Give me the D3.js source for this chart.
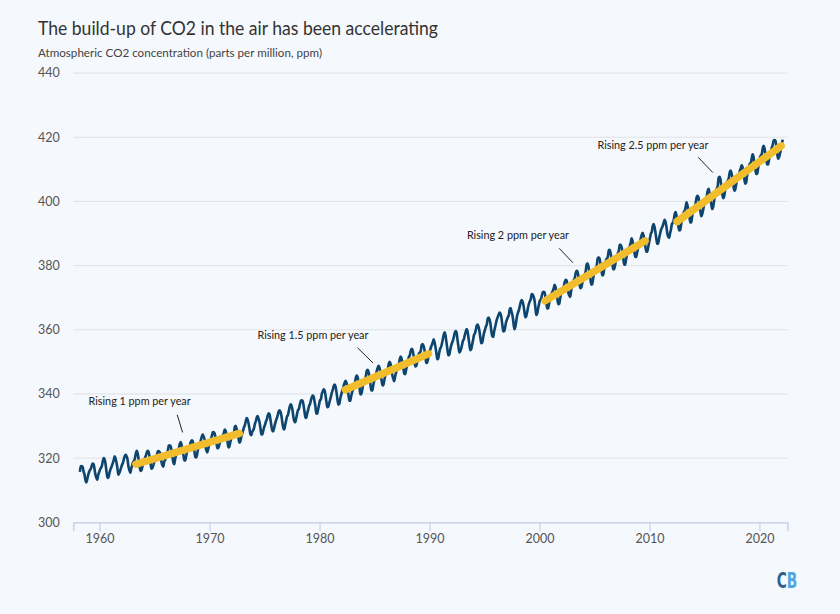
<!DOCTYPE html>
<html>
<head>
<meta charset="utf-8">
<script src="https://cdn.jsdelivr.net/npm/d3@7"></script>
<style>
  html, body { margin: 0; padding: 0; background: #f5f8fc; }
  svg { display: block; font-family: "Lato", "Noto Sans", sans-serif; }
</style>
</head>
<body>
<svg id="chart" width="840" height="614"></svg>
<script>
// ---- Data: Mauna Loa monthly mean CO2 (ppm), one row per year, Jan..Dec (null = no data shown)
const years = d3.range(1958, 2023);
const monthlyCo2 = [
  [null, null, 315.70, 317.45, 317.51, 317.24, 315.86, 314.93, 313.20, 312.43, 313.33, 314.67],
  [315.62, 316.38, 316.71, 317.72, 318.29, 318.15, 316.54, 314.80, 313.84, 313.26, 314.80, 315.58],
  [316.43, 316.97, 317.58, 319.02, 320.03, 319.59, 318.18, 315.91, 314.16, 313.83, 315.00, 316.19],
  [316.93, 317.70, 318.54, 319.48, 320.58, 319.77, 318.57, 316.79, 314.80, 315.38, 316.10, 317.01],
  [317.94, 318.56, 319.68, 320.63, 321.01, 320.55, 319.58, 317.40, 316.26, 315.42, 316.69, 317.70],
  [318.74, 319.07, 319.86, 321.38, 322.25, 321.48, 319.74, 317.77, 316.21, 315.99, 317.12, 318.31],
  [319.57, 320.07, 320.73, 321.77, 322.25, 321.89, 320.44, 318.69, 316.70, 316.87, 317.68, 318.71],
  [319.44, 320.44, 320.89, 322.14, 322.17, 321.87, 321.21, 318.87, 317.81, 317.30, 318.87, 319.42],
  [320.62, 321.59, 322.39, 323.87, 324.01, 323.75, 322.39, 320.37, 318.64, 318.10, 319.79, 321.08],
  [322.07, 322.50, 323.04, 324.42, 325.00, 324.09, 322.55, 320.92, 319.31, 319.31, 320.72, 321.96],
  [322.57, 323.15, 323.89, 325.02, 325.57, 325.36, 324.14, 322.11, 320.33, 320.25, 321.32, 322.90],
  [324.00, 324.42, 325.64, 326.66, 327.34, 326.76, 325.88, 323.67, 322.38, 321.78, 322.85, 324.11],
  [325.03, 325.99, 326.87, 328.13, 328.07, 327.66, 326.35, 324.69, 323.10, 323.16, 323.98, 325.13],
  [326.17, 326.68, 327.17, 327.79, 328.93, 328.57, 327.36, 325.43, 323.36, 323.56, 324.80, 326.01],
  [326.77, 327.63, 327.75, 329.72, 330.07, 329.09, 328.04, 326.32, 324.84, 325.20, 326.50, 327.55],
  [328.55, 329.56, 330.30, 331.50, 332.48, 332.07, 330.87, 329.31, 327.51, 327.18, 328.16, 328.64],
  [329.35, 330.71, 331.48, 332.65, 333.09, 332.25, 331.18, 329.39, 327.43, 327.37, 328.46, 329.57],
  [330.40, 331.40, 332.04, 333.31, 333.97, 333.60, 331.90, 330.06, 328.56, 328.34, 329.49, 330.76],
  [331.75, 332.56, 333.50, 334.58, 334.87, 334.34, 333.05, 330.94, 329.30, 328.94, 330.31, 331.68],
  [332.93, 333.42, 334.70, 336.07, 336.75, 336.27, 334.92, 332.75, 331.59, 331.16, 332.40, 333.85],
  [334.97, 335.38, 336.64, 337.76, 338.01, 337.89, 336.54, 334.68, 332.76, 332.54, 333.92, 334.95],
  [336.23, 336.76, 337.96, 338.89, 339.47, 339.29, 337.73, 336.09, 333.92, 333.86, 335.29, 336.73],
  [338.01, 338.36, 340.08, 340.77, 341.46, 341.17, 339.56, 337.60, 335.88, 336.02, 337.10, 338.21],
  [339.24, 340.48, 341.38, 342.51, 342.91, 342.25, 340.49, 338.43, 336.69, 336.86, 338.36, 339.61],
  [340.75, 341.61, 342.70, 343.56, 344.13, 343.35, 342.06, 339.82, 337.97, 337.86, 339.26, 340.49],
  [341.38, 342.52, 343.10, 344.94, 345.75, 345.32, 343.99, 342.39, 339.86, 339.99, 341.16, 342.99],
  [343.82, 344.63, 345.40, 347.14, 347.54, 346.89, 345.29, 343.09, 341.18, 341.07, 342.56, 343.97],
  [344.79, 345.82, 347.25, 348.17, 348.75, 348.07, 346.38, 344.52, 342.92, 342.63, 344.06, 345.38],
  [346.11, 346.78, 347.68, 349.37, 350.03, 349.37, 347.76, 345.73, 344.68, 343.99, 345.48, 346.72],
  [347.84, 348.29, 349.23, 350.80, 351.66, 351.07, 349.33, 347.92, 346.27, 346.18, 347.64, 348.78],
  [350.25, 351.54, 352.05, 353.41, 354.04, 353.62, 352.22, 350.27, 348.55, 348.72, 349.91, 351.18],
  [352.60, 352.92, 353.53, 355.26, 355.52, 354.97, 353.75, 351.52, 349.64, 349.83, 351.14, 352.37],
  [353.50, 354.55, 355.23, 356.04, 357.00, 356.07, 354.67, 352.76, 350.82, 351.04, 352.69, 354.07],
  [354.59, 355.63, 357.03, 358.48, 359.22, 358.12, 356.06, 353.92, 352.05, 352.11, 353.64, 354.89],
  [355.88, 356.63, 357.72, 359.07, 359.58, 359.17, 356.94, 354.92, 352.94, 353.23, 354.09, 355.33],
  [356.63, 357.10, 358.32, 359.41, 360.23, 359.55, 357.53, 355.48, 353.67, 353.95, 355.30, 356.78],
  [358.34, 358.89, 359.95, 361.25, 361.67, 360.94, 359.55, 357.49, 355.84, 356.00, 357.58, 359.04],
  [359.97, 361.00, 361.64, 363.45, 363.79, 363.26, 361.90, 359.46, 358.06, 357.75, 359.56, 360.70],
  [362.05, 363.25, 364.03, 364.72, 365.41, 364.97, 363.65, 361.49, 359.46, 359.60, 360.76, 362.33],
  [363.18, 364.00, 364.57, 366.35, 366.79, 365.62, 364.47, 362.51, 360.19, 360.77, 362.43, 364.28],
  [365.32, 366.15, 367.31, 368.61, 369.30, 368.87, 367.64, 365.77, 363.90, 364.23, 365.46, 366.97],
  [368.15, 368.87, 369.59, 371.14, 371.00, 370.35, 369.27, 366.94, 364.63, 365.12, 366.67, 368.01],
  [369.14, 369.46, 370.52, 371.66, 371.82, 371.70, 370.12, 368.12, 366.62, 366.73, 368.29, 369.53],
  [370.28, 371.50, 372.12, 372.87, 374.02, 373.30, 371.62, 369.55, 367.96, 368.09, 369.68, 371.24],
  [372.44, 373.08, 373.52, 374.85, 375.55, 375.40, 374.02, 371.49, 370.71, 370.25, 372.08, 373.78],
  [374.68, 375.62, 376.11, 377.65, 378.35, 378.13, 376.62, 374.50, 372.99, 373.01, 374.35, 375.70],
  [376.79, 377.37, 378.41, 380.52, 380.63, 379.57, 377.79, 375.86, 374.06, 374.24, 375.86, 377.48],
  [378.39, 379.22, 380.04, 382.25, 382.48, 382.23, 380.57, 378.72, 376.97, 377.05, 378.80, 380.28],
  [381.65, 382.21, 382.66, 384.69, 384.92, 384.03, 382.30, 380.49, 378.81, 379.03, 380.17, 381.85],
  [382.89, 383.90, 384.57, 386.48, 386.49, 385.86, 384.32, 381.93, 380.25, 380.36, 382.01, 383.52],
  [384.92, 385.56, 386.08, 387.10, 388.48, 387.75, 386.03, 384.27, 382.68, 382.72, 384.01, 385.47],
  [386.71, 387.12, 388.43, 389.61, 390.19, 389.47, 388.07, 385.91, 384.43, 384.31, 385.57, 387.09],
  [388.50, 389.94, 390.51, 392.29, 392.97, 392.11, 390.36, 388.39, 386.76, 387.03, 388.51, 389.85],
  [391.09, 391.76, 392.44, 393.37, 394.26, 393.67, 392.09, 389.97, 388.97, 388.65, 390.11, 391.37],
  [392.95, 393.32, 394.22, 396.09, 396.73, 395.60, 394.13, 392.26, 390.97, 391.11, 392.75, 394.17],
  [395.57, 396.74, 397.08, 398.35, 399.77, 398.69, 397.27, 395.47, 393.48, 393.45, 395.16, 396.86],
  [397.91, 398.01, 399.70, 401.33, 401.78, 401.25, 399.10, 397.03, 395.38, 396.03, 397.28, 398.91],
  [399.98, 400.28, 401.54, 403.28, 403.96, 402.80, 401.31, 398.93, 397.63, 398.29, 400.16, 401.85],
  [402.50, 404.04, 404.83, 407.42, 407.70, 406.81, 404.39, 402.25, 401.03, 401.57, 403.53, 404.42],
  [406.13, 406.42, 407.18, 409.00, 409.65, 408.84, 407.07, 405.07, 403.38, 403.64, 405.14, 406.81],
  [407.96, 408.32, 409.41, 410.24, 411.24, 410.79, 408.71, 406.99, 405.51, 405.95, 408.02, 409.07],
  [410.83, 411.75, 411.97, 413.32, 414.66, 413.92, 411.77, 409.95, 408.54, 408.53, 410.27, 411.76],
  [413.61, 414.34, 414.74, 416.45, 417.31, 416.62, 414.61, 412.78, 411.52, 411.51, 413.12, 414.26],
  [415.52, 416.75, 417.64, 419.05, 419.13, 418.94, 416.96, 414.47, 413.30, 413.93, 415.01, 416.71],
  [418.19, 419.28, null, null, null, null, null, null, null, null, null, null]
];

// Trend segments (start year, start ppm, end year, end ppm)
const trendStartYear = [1963.3, 1982.35, 2000.5, 2012.5];
const trendStartPpm  = [318.1, 341.3, 369.0, 393.7];
const trendEndYear   = [1972.7, 1989.9, 2009.6, 2021.97];
const trendEndPpm    = [327.7, 352.5, 387.7, 417.3];

// Annotations
const annotationText  = ["Rising 1 ppm per year", "Rising 1.5 ppm per year", "Rising 2 ppm per year", "Rising 2.5 ppm per year"];
const annotationYear  = [1959.0, 1974.36, 1993.4, 2005.27];
const annotationPpm   = [336.7, 357.1, 388.2, 416.25];
const leaderFromYear  = [1967.06, 1983.45, 2001.79, 2014.43];
const leaderFromPpm   = [333.5, 354.4, 385.4, 413.75];
const leaderToYear    = [1967.55, 1984.85, 2003.04, 2015.76];
const leaderToPpm     = [328.0, 349.7, 380.9, 409.0];

const yTicks = [300, 320, 340, 360, 380, 400, 420, 440];
const xTicks = [1960, 1970, 1980, 1990, 2000, 2010, 2020];

const titleText = "The build-up of CO2 in the air has been accelerating";
const subtitleText = "Atmospheric CO2 concentration (parts per million, ppm)";
const logoText = "CB";

// ---- Build series
const series = [];
years.forEach((yr, i) => {
  monthlyCo2[i].forEach((v, m) => {
    if (v !== null) series.push({ t: yr + (m + 0.5) / 12, v });
  });
});

const svg = d3.select("#chart");
const W = 840, H = 614;
svg.append("rect").attr("width", W).attr("height", H).attr("fill", "#f5f8fc");

// Two-tone gradient for the logo (C dark blue, B light blue)
const grad = svg.append("defs").append("linearGradient").attr("id", "cbGrad")
  .attr("x1", "0").attr("x2", "1").attr("y1", "0").attr("y2", "0");
grad.append("stop").attr("offset", "0.5").attr("stop-color", "#2d6190");
grad.append("stop").attr("offset", "0.5").attr("stop-color", "#4ea6df");

const x = d3.scaleLinear().domain([1957.61, 2022.55]).range([73.3, 787.5]);
const y = d3.scaleLinear().domain([300, 440]).range([522.3, 73.1]);

// Title & subtitle
svg.append("text").attr("x", 38).attr("y", 34.5)
  .attr("font-size", 19.5).attr("fill", "#333")
  .attr("textLength", 400).attr("lengthAdjust", "spacingAndGlyphs").text(titleText);
svg.append("text").attr("x", 38).attr("y", 57)
  .attr("font-size", 12).attr("fill", "#444")
  .attr("textLength", 284).attr("lengthAdjust", "spacingAndGlyphs").text(subtitleText);

// Gridlines
svg.append("g").selectAll("line").data(yTicks.filter(d => d !== 300)).join("line")
  .attr("x1", x.range()[0]).attr("x2", x.range()[1])
  .attr("y1", d => y(d)).attr("y2", d => y(d))
  .attr("stroke", "#dfe2e6").attr("stroke-width", 1);

// Y labels
svg.append("g").selectAll("text").data(yTicks).join("text")
  .attr("x", 38).attr("y", d => y(d)).attr("dy", "0.35em")
  .attr("font-size", 12.5).attr("fill", "#555").text(d => d);

// X axis
const xAxis = d3.axisBottom(x).tickValues(xTicks).tickFormat(d3.format("d")).tickSize(9).tickPadding(3);
const gx = svg.append("g").attr("transform", `translate(0,${y(300)})`).call(xAxis);
gx.select(".domain").attr("stroke", "#bccbe3").attr("stroke-width", 1.2);
gx.selectAll(".tick line").attr("stroke", "#bccbe3");
gx.selectAll(".tick text").attr("font-size", 12.5).attr("fill", "#555")
  .attr("font-family", "Lato, 'Noto Sans', sans-serif");

// CO2 line
const line = d3.line().x(d => x(d.t)).y(d => y(d.v)).curve(d3.curveMonotoneX);
svg.append("path").datum(series).attr("d", line)
  .attr("fill", "none").attr("stroke", "#0d456e").attr("stroke-width", 2.6)
  .attr("stroke-linejoin", "round");

// Trend segments
svg.append("g").selectAll("line").data(trendStartYear).join("line")
  .attr("x1", (d, i) => x(trendStartYear[i])).attr("y1", (d, i) => y(trendStartPpm[i]))
  .attr("x2", (d, i) => x(trendEndYear[i])).attr("y2", (d, i) => y(trendEndPpm[i]))
  .attr("stroke", "#f1bd2d").attr("stroke-width", 7.5).attr("stroke-linecap", "round");

// Annotations
const ann = svg.append("g");
ann.selectAll("text").data(annotationText).join("text")
  .attr("x", (d, i) => x(annotationYear[i])).attr("y", (d, i) => y(annotationPpm[i]))
  .attr("font-size", 10.8).attr("fill", "#222").text(d => d);
ann.selectAll("line").data(annotationText).join("line")
  .attr("x1", (d, i) => x(leaderFromYear[i])).attr("y1", (d, i) => y(leaderFromPpm[i]))
  .attr("x2", (d, i) => x(leaderToYear[i])).attr("y2", (d, i) => y(leaderToPpm[i]))
  .attr("stroke", "#222").attr("stroke-width", 1);

// CB logo: one text, two-tone fill
svg.append("text").attr("x", 776.8).attr("y", 588)
  .attr("font-family", "'DejaVu Sans Condensed', 'Liberation Sans Narrow', sans-serif")
  .attr("font-weight", "bold").attr("font-size", 21)
  .attr("textLength", 20.5).attr("lengthAdjust", "spacingAndGlyphs")
  .attr("fill", "url(#cbGrad)").text(logoText);
</script>
</body>
</html>
